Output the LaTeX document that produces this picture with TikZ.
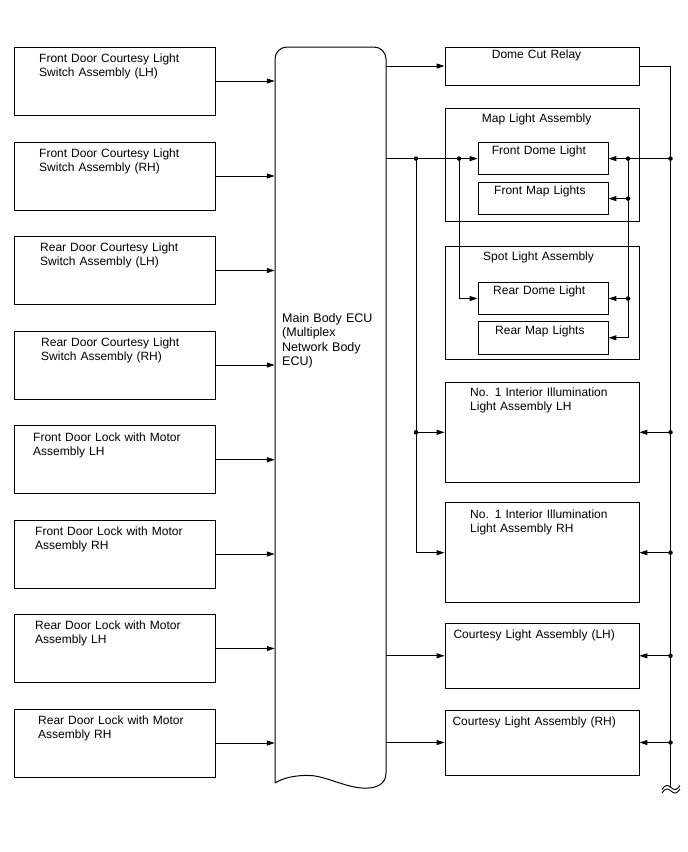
\documentclass[tikz,border=0pt]{standalone}
\usepackage{fontspec}
\setmainfont{Liberation Sans}
\usetikzlibrary{arrows.meta,calc}
\begin{document}
\begin{tikzpicture}[x=1pt,y=-1pt,
  lbox/.style={draw, line width=0.9pt, minimum width=201pt, minimum height=68pt, inner sep=0pt},
  rbox/.style={draw, line width=0.9pt, minimum width=194pt, inner sep=0pt},
  ibox/.style={draw, line width=0.9pt, minimum width=130pt, minimum height=32.5pt, inner sep=0pt},
  txt/.style={font=\fontsize{12}{14}\selectfont, text width=200pt, align=left, inner sep=0pt, anchor=base west},
  ecutxt/.style={font=\fontsize{12.5}{14.5}\selectfont, text width=100pt, align=left, inner sep=0pt, anchor=base west},
  arr/.style={-{Triangle[length=8pt,width=5pt]}, line width=1pt},
  wire/.style={line width=1pt},
  jdot/.style={circle, fill, inner sep=0pt, minimum size=4.5pt}
]
\useasboundingbox (0,0) rectangle (688,852);

% ---------- left boxes ----------
\node[lbox] (L1) at (114.5,81) {};
\node[lbox] (L2) at (114.5,176) {};
\node[lbox] (L3) at (114.5,270.5) {};
\node[lbox] (L4) at (114.5,365) {};
\node[lbox] (L5) at (114.5,459.7) {};
\node[lbox] (L6) at (114.5,554) {};
\node[lbox] (L7) at (114.5,648.5) {};
\node[lbox] (L8) at (114.5,743) {};

\node[txt] (tL1) at (39,62) {Front Door Courtesy Light\\Switch Assembly (LH)};
\node[txt] (tL2) at (39,157) {Front Door Courtesy Light\\Switch Assembly (RH)};
\node[txt] (tL3) at (40,251.5) {Rear Door Courtesy Light\\Switch Assembly (LH)};
\node[txt] (tL4) at (41,346) {Rear Door Courtesy Light\\Switch Assembly (RH)};
\node[txt] (tL5) at (33,441) {Front Door Lock with Motor\\Assembly LH};
\node[txt] (tL6) at (35,535) {Front Door Lock with Motor\\Assembly RH};
\node[txt] (tL7) at (35,629.5) {Rear Door Lock with Motor\\Assembly LH};
\node[txt] (tL8) at (38,724) {Rear Door Lock with Motor\\Assembly RH};

% ---------- ECU ----------
\node[minimum width=111pt, minimum height=736pt, inner sep=0pt] (ecu) at (330.5,415) {};
\draw[line width=1pt] (275,783) -- (275,59) arc[start angle=180, end angle=270, radius=12]
  -- (374,47) arc[start angle=270, end angle=360, radius=12] -- (386,773)
  .. controls (386,785) and (375,789) .. (362,788)
  .. controls (345,787) and (325,776) .. (310,775.5)
  .. controls (295,775) and (283,778) .. (275,783);
\node[ecutxt] (tecu) at (282,322) {Main Body ECU\\(Multiplex\\Network Body\\ECU)};

% ---------- right boxes ----------
\node[rbox, minimum height=38pt] (dcr) at (542,66) {};
\node[rbox, minimum height=113.4pt] (map) at (542,165) {};
\node[ibox] (fdl) at (543,158.6) {};
\node[ibox] (fml) at (543,198.6) {};
\node[rbox, minimum height=113.3pt] (spot) at (542,302.7) {};
\node[ibox, minimum height=31.6pt] (rdl) at (543,298.5) {};
\node[ibox] (rml) at (543,337.8) {};
\node[rbox, minimum height=100pt] (nlh) at (542,432.3) {};
\node[rbox, minimum height=100pt] (nrh) at (542,552.7) {};
\node[rbox, minimum height=65pt] (clh) at (542,655.8) {};
\node[rbox, minimum height=65pt] (crh) at (542,742.5) {};

\node[txt] (tdcr) at (491.7,58.6) {Dome Cut Relay};
\node[txt] (tmap) at (481.7,122.6) {Map Light Assembly};
\node[txt] (tfdl) at (491.7,154.3) {Front Dome Light};
\node[txt] (tfml) at (494,194.6) {Front Map Lights};
\node[txt] (tspot) at (483,260.3) {Spot Light Assembly};
\node[txt] (trdl) at (493,294.3) {Rear Dome Light};
\node[txt] (trml) at (495,334.3) {Rear Map Lights};
\node[txt] (tnlh) at (470,396) {No. 1 Interior Illumination\\Light Assembly LH};
\node[txt] (tnrh) at (470,518.6) {No. 1 Interior Illumination\\Light Assembly RH};
\node[txt] (tclh) at (453.3,638.6) {Courtesy Light Assembly (LH)};
\node[txt] (tcrh) at (452.3,725.3) {Courtesy Light Assembly (RH)};

% ---------- left connectors ----------
\foreach \i in {1,...,8} {\draw[arr] (L\i.east) -- (L\i.east -| ecu.west);}

% ---------- ECU outputs ----------
\draw[arr] (ecu.east |- dcr.west) -- (dcr.west);
\draw[arr] (ecu.east |- fdl.west) -- (fdl.west);
\draw[arr] (ecu.east |- clh.west) -- (clh.west);
\draw[arr] (ecu.east |- crh.west) -- (crh.west);

\coordinate (j1) at (416,158.6);
\coordinate (j2) at (459,158.6);
\draw[arr] (j2) |- (rdl.west);
\draw[arr] (j1) |- (nrh.west);
\draw[arr] (j1 |- nlh.west) -- (nlh.west);
\node[jdot] (d1) at (j1) {};
\node[jdot] (d2) at (j2) {};
\node[jdot] (d3) at (j1 |- nlh.west) {};

% ---------- bus ----------
\coordinate (bustop) at (670.5,66);
\coordinate (busbot) at (670.5,787);
\draw[wire] (dcr.east) -- (bustop) -- (busbot);
\draw[line width=0.9pt] (662,793) .. controls (665,788) and (668,788) .. (671,791) .. controls (674,794) and (677,794) .. (680,789);
\draw[line width=0.9pt] (662,789.5) .. controls (665,784.5) and (668,784.5) .. (671,787.5) .. controls (674,790.5) and (677,790.5) .. (680,785.5);

\coordinate (j3) at (628,158.6);
\draw[arr] (bustop |- fdl.east) -- (fdl.east);
\draw[arr] (j3) |- (rml.east);
\draw[arr] (j3 |- fml.east) -- (fml.east);
\draw[arr] (j3 |- rdl.east) -- (rdl.east);
\node[jdot] (d4) at (bustop |- fdl.east) {};
\node[jdot] (d5) at (j3) {};
\node[jdot] (d6) at (j3 |- fml.east) {};
\node[jdot] (d7) at (j3 |- rdl.east) {};

\foreach \b in {nlh,nrh,clh,crh} {
  \draw[arr] (bustop |- \b.east) -- (\b.east);
  \node[jdot] at (bustop |- \b.east) {};
}
\end{tikzpicture}
\end{document}
